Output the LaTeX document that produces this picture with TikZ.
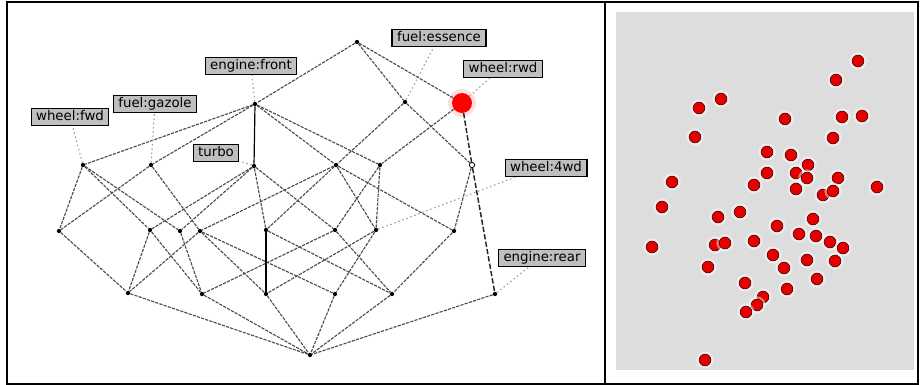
\documentclass[tikz,border=0pt]{standalone}
\usepackage{fontspec}
\setmainfont{DejaVu Sans}
\begin{document}
\begin{tikzpicture}[x=0.75pt, y=-0.75pt,
    vertex/.style={circle, fill=black, minimum size=3.2pt, inner sep=0pt},
    hollow/.style={circle, draw=black, fill=white, minimum size=4pt, inner sep=0pt, line width=0.6pt},
    hot/.style={circle, fill=red, minimum size=15pt, inner sep=0pt},
    tag/.style={draw=black, fill=gray!50, line width=0.8pt, font=\fontsize{10}{12}\selectfont,
                text height=7.6pt, text depth=2.2pt, inner xsep=3.8pt, inner ysep=1.6pt},
    edge/.style={black!70, line width=0.85pt, dash pattern=on 2.4pt off 0.9pt},
    firm/.style={black, line width=0.9pt},
    bold/.style={black!85, line width=1.1pt, dash pattern=on 4pt off 1.6pt},
    hint/.style={gray!75, line width=0.8pt, dash pattern=on 1.2pt off 2pt}
]
\useasboundingbox (0,0) rectangle (920,385);

% frame and the two panels
\fill[gray!27] (616,12) rectangle (914,370);
\draw[line width=1.2pt] (7,2) rectangle (918,384);
\draw[line width=1.2pt] (605,2) -- (605,384);

% lattice
\fill[red!12] (462,103) circle (10.5pt);
\node[vertex] (top)    at (357,42)  {};
\node[vertex] (efront) at (255,104) {};
\node[vertex] (fess)   at (405,102) {};
\node[hot]    (wrwd)   at (462,103) {};
\node[vertex] (wfwd)   at (83,165)  {};
\node[vertex] (fgaz)   at (151,165) {};
\node[vertex] (turbo)  at (254,166) {};
\node[vertex] (c1)     at (336,165) {};
\node[vertex] (c2)     at (380,165) {};
\node[hollow] (c3)     at (472,165) {};
\node[vertex] (c4)     at (59,231)  {};
\node[vertex] (c5)     at (150,230) {};
\node[vertex] (c6)     at (180,231) {};
\node[vertex] (c7)     at (200,231) {};
\node[vertex] (c8)     at (266,230) {};
\node[vertex] (c9)     at (335,230) {};
\node[vertex] (w4wd)   at (376,230) {};
\node[vertex] (c10)    at (454,231) {};
\node[vertex] (c11)    at (128,293) {};
\node[vertex] (c12)    at (202,294) {};
\node[vertex] (c13)    at (266,294) {};
\node[vertex] (c14)    at (335,294) {};
\node[vertex] (c15)    at (392,294) {};
\node[vertex] (erear)  at (495,294) {};
\node[vertex] (bot)    at (310,355) {};

\foreach \a/\b in {top/efront, top/fess, top/wrwd,
    efront/wfwd, efront/fgaz, efront/c1, efront/c2,
    fess/c1, fess/c3, wrwd/c2,
    wfwd/c4, wfwd/c5, wfwd/c6, fgaz/c4, fgaz/c7,
    turbo/c5, turbo/c6, turbo/c8, turbo/c9,
    c1/c7, c1/c8, c1/w4wd, c1/c10, c2/c9, c2/w4wd, c3/c10,
    c4/c11, c5/c11, c5/c12, c6/c12, c7/c11, c7/c13, c7/c14,
    c8/c15, c9/c12, c9/c15, w4wd/c13, w4wd/c14, c10/c15,
    c11/bot, c12/bot, c13/bot, c14/bot, c15/bot, erear/bot}
  \draw[edge] (\a) -- (\b);
\draw[firm] (efront) -- (turbo);
\draw[firm] (c8) -- (c13);
\draw[bold] (wrwd) -- (c3);
\draw[bold] (c3) -- (erear);

% attribute labels
\node[tag] (lfwd)   at (70,117)  {wheel:fwd};
\node[tag] (lgaz)   at (155,104) {fuel:gazole};
\node[tag] (lfront) at (251,66)  {engine:front};
\node[tag] (lturbo) at (216,153) {turbo};
\node[tag] (less)   at (439,38)  {fuel:essence};
\node[tag] (lrwd)   at (503,69)  {wheel:rwd};
\node[tag] (l4wd)   at (546,168) {wheel:4wd};
\node[tag] (lrear)  at (542,258) {engine:rear};

\draw[hint] (wfwd) -- (lfwd);
\draw[hint] (fgaz) -- (lgaz);
\draw[hint] (efront) -- (lfront);
\draw[hint] (turbo) -- (lturbo);
\draw[hint] (fess) -- ([xshift=-4pt]less.south);
\draw[hint] (wrwd) -- ([xshift=-10pt]lrwd.south);
\draw[hint] (w4wd) -- ([xshift=-23pt]l4wd.south);
\draw[hint] (erear) -- ([xshift=-10pt]lrear.south);

% objects
\foreach \px/\py in {858/61, 836/80, 721/99, 699/108, 785/119, 842/117, 862/116,
    695/137, 833/138, 767/152, 791/155, 808/165, 672/182, 767/173, 796/173,
    807/178, 838/178, 877/187, 754/185, 796/189, 823/195, 833/191,
    662/207, 718/217, 740/212, 777/226, 813/219, 652/247, 715/245, 725/243,
    754/241, 799/234, 816/236, 830/242, 843/248, 773/255, 807/260, 835/261,
    784/268, 708/267, 817/279, 745/283, 787/289, 763/297, 757/305, 746/312, 705/360}
{
  \fill[white, opacity=0.45] (\px,\py) circle (6.5pt);
  \filldraw[fill=red!90!black, draw=red!35!black, line width=0.5pt] (\px,\py) circle (4.4pt);
}
\end{tikzpicture}
\end{document}
